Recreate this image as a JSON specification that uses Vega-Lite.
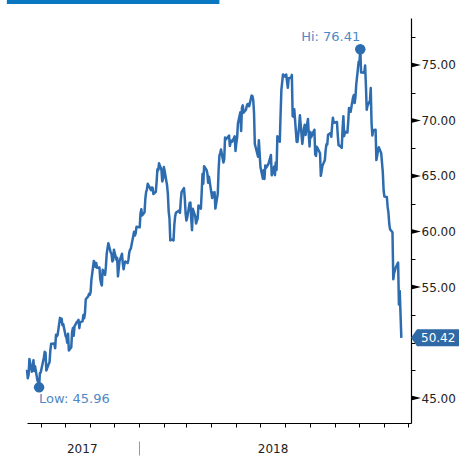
{
  "$schema": "https://vega.github.io/schema/vega-lite/v6.json",
  "width": 384,
  "height": 405,
  "autosize": {"type": "none"},
  "padding": {"left": 27, "top": 18, "right": 48, "bottom": 33},
  "background": "white",
  "config": {"view": {"stroke": null}, "font": "DejaVu Sans"},
  "datasets": {
    "prices": [
      {"d":"2017-08-15","p":47.55},{"d":"2017-08-16","p":46.78},{"d":"2017-08-17","p":47.09},{"d":"2017-08-18","p":48.51},{"d":"2017-08-21","p":47.37},{"d":"2017-08-22","p":47.64},{"d":"2017-08-23","p":48.41},{"d":"2017-08-24","p":47.43},{"d":"2017-08-25","p":47.87},{"d":"2017-08-28","p":46.57},{"d":"2017-08-29","p":46.44},{"d":"2017-08-30","p":45.96},{"d":"2017-08-31","p":47.23},
      {"d":"2017-09-01","p":47.29},{"d":"2017-09-05","p":48.66},{"d":"2017-09-06","p":49.16},{"d":"2017-09-07","p":49.09},{"d":"2017-09-08","p":47.48},{"d":"2017-09-11","p":48.07},{"d":"2017-09-12","p":48.23},{"d":"2017-09-13","p":49.30},{"d":"2017-09-14","p":49.89},{"d":"2017-09-15","p":49.89},{"d":"2017-09-18","p":49.91},{"d":"2017-09-19","p":49.48},{"d":"2017-09-20","p":50.69},{"d":"2017-09-21","p":50.55},{"d":"2017-09-22","p":50.66},{"d":"2017-09-25","p":52.22},{"d":"2017-09-26","p":51.88},{"d":"2017-09-27","p":52.14},{"d":"2017-09-28","p":51.56},{"d":"2017-09-29","p":51.67},
      {"d":"2017-10-02","p":50.58},{"d":"2017-10-03","p":50.42},{"d":"2017-10-04","p":49.98},{"d":"2017-10-05","p":50.79},{"d":"2017-10-06","p":49.29},{"d":"2017-10-09","p":49.58},{"d":"2017-10-10","p":50.92},{"d":"2017-10-11","p":51.30},{"d":"2017-10-12","p":50.60},{"d":"2017-10-13","p":51.45},{"d":"2017-10-16","p":51.87},{"d":"2017-10-17","p":51.88},{"d":"2017-10-18","p":52.04},{"d":"2017-10-19","p":51.29},{"d":"2017-10-20","p":51.84},{"d":"2017-10-23","p":51.90},{"d":"2017-10-24","p":52.47},{"d":"2017-10-25","p":52.18},{"d":"2017-10-26","p":52.64},{"d":"2017-10-27","p":53.90},{"d":"2017-10-30","p":54.15},{"d":"2017-10-31","p":54.38},
      {"d":"2017-11-01","p":54.30},{"d":"2017-11-02","p":54.54},{"d":"2017-11-03","p":55.64},{"d":"2017-11-06","p":57.35},{"d":"2017-11-07","p":57.20},{"d":"2017-11-08","p":56.81},{"d":"2017-11-09","p":57.17},{"d":"2017-11-10","p":56.74},{"d":"2017-11-13","p":56.76},{"d":"2017-11-14","p":55.70},{"d":"2017-11-15","p":55.33},{"d":"2017-11-16","p":55.14},{"d":"2017-11-17","p":56.55},{"d":"2017-11-20","p":56.09},{"d":"2017-11-21","p":56.83},{"d":"2017-11-22","p":57.99},{"d":"2017-11-24","p":58.95},{"d":"2017-11-27","p":58.11},{"d":"2017-11-28","p":57.99},{"d":"2017-11-29","p":57.30},{"d":"2017-11-30","p":57.40},
      {"d":"2017-12-01","p":58.36},{"d":"2017-12-04","p":57.47},{"d":"2017-12-05","p":57.62},{"d":"2017-12-06","p":55.96},{"d":"2017-12-07","p":56.69},{"d":"2017-12-08","p":57.36},{"d":"2017-12-11","p":57.99},{"d":"2017-12-12","p":57.14},{"d":"2017-12-13","p":56.60},{"d":"2017-12-14","p":57.04},{"d":"2017-12-15","p":57.30},{"d":"2017-12-18","p":57.16},{"d":"2017-12-19","p":57.46},{"d":"2017-12-20","p":58.09},{"d":"2017-12-21","p":58.36},{"d":"2017-12-22","p":58.47},{"d":"2017-12-26","p":59.97},{"d":"2017-12-27","p":59.64},{"d":"2017-12-28","p":59.84},{"d":"2017-12-29","p":60.42},
      {"d":"2018-01-02","p":60.37},{"d":"2018-01-03","p":61.63},{"d":"2018-01-04","p":62.01},{"d":"2018-01-05","p":61.44},{"d":"2018-01-08","p":61.73},{"d":"2018-01-09","p":62.96},{"d":"2018-01-10","p":63.57},{"d":"2018-01-11","p":63.80},{"d":"2018-01-12","p":64.30},{"d":"2018-01-16","p":63.73},{"d":"2018-01-17","p":63.97},{"d":"2018-01-18","p":63.95},{"d":"2018-01-19","p":63.37},{"d":"2018-01-22","p":63.57},{"d":"2018-01-23","p":64.47},{"d":"2018-01-24","p":65.61},{"d":"2018-01-25","p":65.51},{"d":"2018-01-26","p":66.14},{"d":"2018-01-29","p":65.56},{"d":"2018-01-30","p":64.50},{"d":"2018-01-31","p":64.73},
      {"d":"2018-02-01","p":65.80},{"d":"2018-02-02","p":65.45},{"d":"2018-02-05","p":64.15},{"d":"2018-02-06","p":63.39},{"d":"2018-02-07","p":61.79},{"d":"2018-02-08","p":61.15},{"d":"2018-02-09","p":59.20},{"d":"2018-02-12","p":59.29},{"d":"2018-02-13","p":59.19},{"d":"2018-02-14","p":60.60},{"d":"2018-02-15","p":61.34},{"d":"2018-02-16","p":61.68},{"d":"2018-02-20","p":61.90},{"d":"2018-02-21","p":61.68},{"d":"2018-02-22","p":62.77},{"d":"2018-02-23","p":63.55},{"d":"2018-02-26","p":63.91},{"d":"2018-02-27","p":63.01},{"d":"2018-02-28","p":61.64},
      {"d":"2018-03-01","p":60.99},{"d":"2018-03-02","p":61.25},{"d":"2018-03-05","p":62.57},{"d":"2018-03-06","p":62.60},{"d":"2018-03-07","p":61.15},{"d":"2018-03-08","p":60.12},{"d":"2018-03-09","p":62.04},{"d":"2018-03-12","p":61.36},{"d":"2018-03-13","p":60.71},{"d":"2018-03-14","p":60.96},{"d":"2018-03-15","p":61.19},{"d":"2018-03-16","p":62.34},{"d":"2018-03-19","p":62.06},{"d":"2018-03-20","p":63.54},{"d":"2018-03-21","p":65.17},{"d":"2018-03-22","p":64.30},{"d":"2018-03-23","p":65.88},{"d":"2018-03-26","p":65.55},{"d":"2018-03-27","p":65.25},{"d":"2018-03-28","p":64.38},{"d":"2018-03-29","p":64.94},
      {"d":"2018-04-02","p":63.01},{"d":"2018-04-03","p":63.51},{"d":"2018-04-04","p":63.37},{"d":"2018-04-05","p":63.54},{"d":"2018-04-06","p":62.06},{"d":"2018-04-09","p":63.42},{"d":"2018-04-10","p":65.51},{"d":"2018-04-11","p":66.82},{"d":"2018-04-12","p":67.07},{"d":"2018-04-13","p":67.39},{"d":"2018-04-16","p":66.22},{"d":"2018-04-17","p":66.52},{"d":"2018-04-18","p":68.47},{"d":"2018-04-19","p":68.29},{"d":"2018-04-20","p":68.38},{"d":"2018-04-23","p":68.64},{"d":"2018-04-24","p":67.70},{"d":"2018-04-25","p":68.05},{"d":"2018-04-26","p":68.19},{"d":"2018-04-27","p":68.10},{"d":"2018-04-30","p":68.57},
      {"d":"2018-05-01","p":67.25},{"d":"2018-05-02","p":67.93},{"d":"2018-05-03","p":68.43},{"d":"2018-05-04","p":69.72},{"d":"2018-05-07","p":70.73},{"d":"2018-05-08","p":69.06},{"d":"2018-05-09","p":71.14},{"d":"2018-05-10","p":71.36},{"d":"2018-05-11","p":70.70},{"d":"2018-05-14","p":70.96},{"d":"2018-05-15","p":71.31},{"d":"2018-05-16","p":71.49},{"d":"2018-05-17","p":71.49},{"d":"2018-05-18","p":71.28},{"d":"2018-05-21","p":72.24},{"d":"2018-05-22","p":72.20},{"d":"2018-05-23","p":71.84},{"d":"2018-05-24","p":70.71},{"d":"2018-05-25","p":67.88},{"d":"2018-05-29","p":66.73},{"d":"2018-05-30","p":68.21},{"d":"2018-05-31","p":67.04},
      {"d":"2018-06-01","p":65.81},{"d":"2018-06-04","p":64.75},{"d":"2018-06-05","p":65.52},{"d":"2018-06-06","p":64.73},{"d":"2018-06-07","p":65.95},{"d":"2018-06-08","p":65.74},{"d":"2018-06-11","p":66.10},{"d":"2018-06-12","p":66.36},{"d":"2018-06-13","p":66.64},{"d":"2018-06-14","p":66.89},{"d":"2018-06-15","p":65.06},{"d":"2018-06-18","p":65.85},{"d":"2018-06-19","p":65.07},{"d":"2018-06-20","p":66.22},{"d":"2018-06-21","p":65.54},{"d":"2018-06-22","p":68.58},{"d":"2018-06-25","p":68.08},{"d":"2018-06-26","p":70.53},{"d":"2018-06-27","p":72.76},{"d":"2018-06-28","p":73.45},{"d":"2018-06-29","p":74.15},
      {"d":"2018-07-02","p":73.94},{"d":"2018-07-03","p":74.14},{"d":"2018-07-05","p":72.94},{"d":"2018-07-06","p":73.80},{"d":"2018-07-09","p":73.85},{"d":"2018-07-10","p":74.11},{"d":"2018-07-11","p":70.38},{"d":"2018-07-12","p":70.33},{"d":"2018-07-13","p":71.01},{"d":"2018-07-16","p":68.06},{"d":"2018-07-17","p":68.08},{"d":"2018-07-18","p":68.76},{"d":"2018-07-19","p":69.46},{"d":"2018-07-20","p":70.46},{"d":"2018-07-23","p":67.89},{"d":"2018-07-24","p":68.52},{"d":"2018-07-25","p":69.30},{"d":"2018-07-26","p":69.61},{"d":"2018-07-27","p":68.69},{"d":"2018-07-30","p":70.13},{"d":"2018-07-31","p":68.76},
      {"d":"2018-08-01","p":67.66},{"d":"2018-08-02","p":68.96},{"d":"2018-08-03","p":68.49},{"d":"2018-08-06","p":69.01},{"d":"2018-08-07","p":69.17},{"d":"2018-08-08","p":66.94},{"d":"2018-08-09","p":66.81},{"d":"2018-08-10","p":67.63},{"d":"2018-08-13","p":67.20},{"d":"2018-08-14","p":67.04},{"d":"2018-08-15","p":65.01},{"d":"2018-08-16","p":65.46},{"d":"2018-08-17","p":65.91},{"d":"2018-08-20","p":66.43},{"d":"2018-08-21","p":67.35},{"d":"2018-08-22","p":67.86},{"d":"2018-08-23","p":67.83},{"d":"2018-08-24","p":68.72},{"d":"2018-08-27","p":68.87},{"d":"2018-08-28","p":68.53},{"d":"2018-08-29","p":69.51},{"d":"2018-08-30","p":70.25},{"d":"2018-08-31","p":69.80},
      {"d":"2018-09-04","p":69.87},{"d":"2018-09-05","p":68.72},{"d":"2018-09-06","p":67.77},{"d":"2018-09-07","p":67.75},{"d":"2018-09-10","p":67.54},{"d":"2018-09-11","p":69.25},{"d":"2018-09-12","p":70.37},{"d":"2018-09-13","p":68.59},{"d":"2018-09-14","p":68.99},{"d":"2018-09-17","p":68.91},{"d":"2018-09-18","p":69.85},{"d":"2018-09-19","p":71.12},{"d":"2018-09-20","p":70.80},{"d":"2018-09-21","p":70.78},{"d":"2018-09-24","p":72.08},{"d":"2018-09-25","p":72.28},{"d":"2018-09-26","p":71.57},{"d":"2018-09-27","p":72.12},{"d":"2018-09-28","p":73.25},
      {"d":"2018-10-01","p":75.30},{"d":"2018-10-02","p":75.23},{"d":"2018-10-03","p":76.41},{"d":"2018-10-04","p":74.33},{"d":"2018-10-05","p":74.34},{"d":"2018-10-08","p":74.29},{"d":"2018-10-09","p":74.96},{"d":"2018-10-10","p":73.17},{"d":"2018-10-11","p":70.97},{"d":"2018-10-12","p":71.34},{"d":"2018-10-15","p":71.78},{"d":"2018-10-16","p":72.92},{"d":"2018-10-17","p":69.75},{"d":"2018-10-18","p":68.65},{"d":"2018-10-19","p":69.12},{"d":"2018-10-22","p":69.17},{"d":"2018-10-23","p":66.43},{"d":"2018-10-24","p":66.82},{"d":"2018-10-25","p":67.33},{"d":"2018-10-26","p":67.59},{"d":"2018-10-29","p":67.04},{"d":"2018-10-30","p":66.18},{"d":"2018-10-31","p":65.31},
      {"d":"2018-11-01","p":63.69},{"d":"2018-11-02","p":63.14},{"d":"2018-11-05","p":63.10},{"d":"2018-11-06","p":62.21},{"d":"2018-11-07","p":61.67},{"d":"2018-11-08","p":60.67},{"d":"2018-11-09","p":60.19},{"d":"2018-11-12","p":59.93},{"d":"2018-11-13","p":55.69},{"d":"2018-11-14","p":56.25},{"d":"2018-11-15","p":56.46},{"d":"2018-11-16","p":56.76},{"d":"2018-11-19","p":57.20},{"d":"2018-11-20","p":53.43},{"d":"2018-11-21","p":54.63},{"d":"2018-11-23","p":50.42}
    ],
    "extremes": [
      {"d":"2017-08-30","p":45.96,"kind":"low","label":"Low: 45.96"},
      {"d":"2018-10-03","p":76.41,"kind":"hi","label":"Hi: 76.41"}
    ],
    "last": [{"p":50.42,"label":"50.42"}],
    "majors": [{"v":45},{"v":55},{"v":60},{"v":65},{"v":70},{"v":75}]
  },
  "resolve": {"axis": {"x": "independent", "y": "independent"}},
  "layer": [
    {
      "data": {"values": [{}]},
      "mark": {"type": "rect", "color": "#0a77c2"},
      "encoding": {
        "x": {"datum": {"year": 2017, "month": 7, "date": 21, "utc": true}, "type": "temporal", "axis": null},
        "x2": {"datum": {"year": 2018, "month": 4, "date": 11, "utc": true}},
        "y": {"datum": 80.85, "type": "quantitative", "axis": null},
        "y2": {"datum": 80.49}
      }
    },
    {
      "data": {"name": "prices"},
      "mark": {"type": "line", "color": "#2e6cb0", "strokeWidth": 2.5, "strokeJoin": "round"},
      "encoding": {
        "x": {
          "field": "d", "type": "temporal",
          "scale": {"type": "utc", "domain": [{"year": 2017, "month": 8, "date": 15, "utc": true}, {"year": 2018, "month": 12, "date": 5, "utc": true}]},
          "axis": {"orient": "bottom", "title": null, "labels": false, "grid": false, "tickCount": {"interval": "month", "step": 1}, "tickSize": 4, "tickColor": "#000", "domainColor": "#000", "domainWidth": 1.2}
        },
        "y": {
          "field": "p", "type": "quantitative",
          "scale": {"domain": [42.75, 79.23], "zero": false, "nice": false},
          "axis": {
            "orient": "right", "title": null, "grid": false,
            "values": [45, 47.5, 50, 52.5, 55, 57.5, 60, 62.5, 65, 67.5, 70, 72.5, 75, 77.5],
            "labelExpr": "(datum.value % 5 === 0 && datum.value !== 50) ? format(datum.value, '.2f') : ''",
            "tickSize": 4, "tickColor": "#000", "domainColor": "#000", "domainWidth": 1.2,
            "labelPadding": 6, "labelFont": "DejaVu Sans", "labelFontSize": 12, "labelColor": "#222", "labelBound": false, "labelOverlap": false
          }
        }
      }
    },
    {
      "data": {"name": "majors"},
      "mark": {"type": "point", "shape": "M0,-0.25 L1,0 L0,0.25 Z", "filled": true, "color": "#000", "opacity": 1, "size": 400},
      "encoding": {
        "x": {"datum": {"year": 2018, "month": 12, "date": 5, "utc": true}, "type": "temporal", "axis": null},
        "y": {"field": "v", "type": "quantitative", "axis": null}
      }
    },
    {
      "data": {"name": "last"},
      "mark": {"type": "point", "shape": "M0,0 L0.25,-0.354 L2,-0.354 L2,0.354 L0.25,0.354 Z", "filled": true, "color": "#2f6aa6", "opacity": 1, "size": 2304},
      "encoding": {
        "x": {"datum": {"year": 2018, "month": 12, "date": 5, "utc": true}, "type": "temporal", "axis": null},
        "y": {"field": "p", "type": "quantitative", "axis": null}
      }
    },
    {
      "data": {"name": "last"},
      "mark": {"type": "text", "color": "#ffffff", "align": "left", "baseline": "middle", "dx": 10, "font": "DejaVu Sans", "fontSize": 12},
      "encoding": {
        "x": {"datum": {"year": 2018, "month": 12, "date": 5, "utc": true}, "type": "temporal", "axis": null},
        "y": {"field": "p", "type": "quantitative", "axis": null},
        "text": {"field": "label"}
      }
    },
    {
      "data": {"name": "extremes"},
      "mark": {"type": "point", "filled": true, "color": "#2e6cb0", "opacity": 1, "size": 110},
      "encoding": {
        "x": {
          "field": "d", "type": "temporal",
          "axis": {"orient": "bottom", "title": null, "labels": false, "grid": false, "domain": false, "values": [{"year": 2018, "month": 1, "date": 1, "utc": true}], "offset": 18, "tickSize": 14, "tickColor": "#999", "tickWidth": 1}
        },
        "y": {"field": "p", "type": "quantitative", "axis": null}
      }
    },
    {
      "data": {"name": "extremes"},
      "transform": [{"filter": "datum.kind === 'hi'"}],
      "mark": {"type": "text", "color": "#4f88c6", "align": "right", "baseline": "middle", "dy": -12, "dx": 0, "font": "DejaVu Sans", "fontSize": 13},
      "encoding": {
        "x": {
          "field": "d", "type": "temporal",
          "axis": {"orient": "bottom", "title": null, "grid": false, "domain": false, "ticks": false, "tickSize": 0, "values": [{"year": 2017, "month": 10, "date": 22, "utc": true}, {"year": 2018, "month": 6, "date": 16, "utc": true}], "format": "%Y", "labelPadding": 20, "labelFont": "DejaVu Sans", "labelFontSize": 12, "labelColor": "#222", "labelBound": false, "labelOverlap": false, "labelFlush": false}
        },
        "y": {"field": "p", "type": "quantitative", "axis": null},
        "text": {"field": "label"}
      }
    },
    {
      "data": {"name": "extremes"},
      "transform": [{"filter": "datum.kind === 'low'"}],
      "mark": {"type": "text", "color": "#4f88c6", "align": "left", "baseline": "middle", "dy": 12, "dx": 0, "font": "DejaVu Sans", "fontSize": 13},
      "encoding": {
        "x": {"field": "d", "type": "temporal", "axis": null},
        "y": {"field": "p", "type": "quantitative", "axis": null},
        "text": {"field": "label"}
      }
    }
  ]
}
